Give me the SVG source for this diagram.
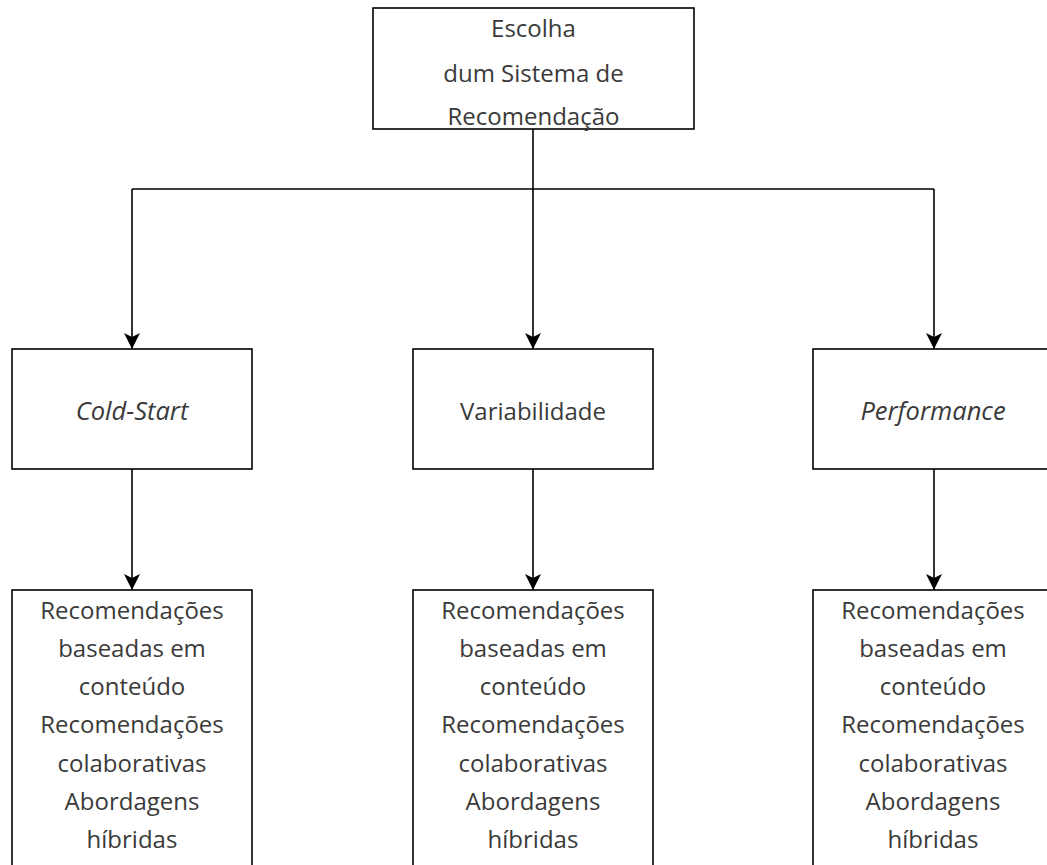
<svg xmlns="http://www.w3.org/2000/svg" width="1047" height="865" viewBox="0 0 1047 865">
  <style>
    .box { fill: #ffffff; stroke: #000000; stroke-width: 1.6; }
    .lbl { font-family: "Open Sans", "Noto Sans", "DejaVu Sans", sans-serif; font-size: 24px; fill: #3a3a3a; text-anchor: middle; }
    .it { font-style: italic; font-size: 25.5px; }
    .wire { fill: none; stroke: #000000; stroke-width: 1.6; }
  </style>
  <defs>
    <marker id="head" viewBox="0 0 16 16" refX="16" refY="8" markerWidth="16" markerHeight="16" markerUnits="userSpaceOnUse" orient="auto">
      <path d="M0,0 L16,8 L0,16 L4,8 Z" fill="#000000"/>
    </marker>
  </defs>
  <rect width="1047" height="865" fill="#ffffff"/>

  <!-- connectors -->
  <g id="connectors">
    <path class="wire" d="M533,129 V189"/>
    <path class="wire" d="M132,189 H934"/>
    <path class="wire" d="M132,189 V349" marker-end="url(#head)"/>
    <path class="wire" d="M533,189 V349" marker-end="url(#head)"/>
    <path class="wire" d="M934,189 V349" marker-end="url(#head)"/>
    <path class="wire" d="M132,469 V590" marker-end="url(#head)"/>
    <path class="wire" d="M533,469 V590" marker-end="url(#head)"/>
    <path class="wire" d="M934,469 V590" marker-end="url(#head)"/>
  </g>

  <!-- root -->
  <g id="node-root">
    <rect class="box" x="373" y="8" width="321" height="121"/>
    <text class="lbl" x="533.5" y="37">Escolha</text>
    <text class="lbl" x="533.5" y="82">dum Sistema de</text>
    <text class="lbl" x="533.5" y="125">Recomendação</text>
  </g>

  <!-- criteria -->
  <g id="node-coldstart">
    <rect class="box" x="12" y="349" width="240" height="120"/>
    <text class="lbl it" x="132" y="420">Cold-Start</text>
  </g>
  <g id="node-variabilidade">
    <rect class="box" x="413" y="349" width="240" height="120"/>
    <text class="lbl" x="533" y="420">Variabilidade</text>
  </g>
  <g id="node-performance">
    <rect class="box" x="813" y="349" width="240" height="120"/>
    <text class="lbl it" x="933" y="420">Performance</text>
  </g>

  <!-- approaches -->
  <g id="node-abordagens-1">
    <rect class="box" x="12" y="590" width="240" height="290"/>
    <text class="lbl" x="132" y="619">Recomendações</text>
    <text class="lbl" x="132" y="657">baseadas em</text>
    <text class="lbl" x="132" y="695">conteúdo</text>
    <text class="lbl" x="132" y="733">Recomendações</text>
    <text class="lbl" x="132" y="772">colaborativas</text>
    <text class="lbl" x="132" y="810">Abordagens</text>
    <text class="lbl" x="132" y="848">híbridas</text>
  </g>
  <g id="node-abordagens-2">
    <rect class="box" x="413" y="590" width="240" height="290"/>
    <text class="lbl" x="533" y="619">Recomendações</text>
    <text class="lbl" x="533" y="657">baseadas em</text>
    <text class="lbl" x="533" y="695">conteúdo</text>
    <text class="lbl" x="533" y="733">Recomendações</text>
    <text class="lbl" x="533" y="772">colaborativas</text>
    <text class="lbl" x="533" y="810">Abordagens</text>
    <text class="lbl" x="533" y="848">híbridas</text>
  </g>
  <g id="node-abordagens-3">
    <rect class="box" x="813" y="590" width="240" height="290"/>
    <text class="lbl" x="933" y="619">Recomendações</text>
    <text class="lbl" x="933" y="657">baseadas em</text>
    <text class="lbl" x="933" y="695">conteúdo</text>
    <text class="lbl" x="933" y="733">Recomendações</text>
    <text class="lbl" x="933" y="772">colaborativas</text>
    <text class="lbl" x="933" y="810">Abordagens</text>
    <text class="lbl" x="933" y="848">híbridas</text>
  </g>
</svg>
